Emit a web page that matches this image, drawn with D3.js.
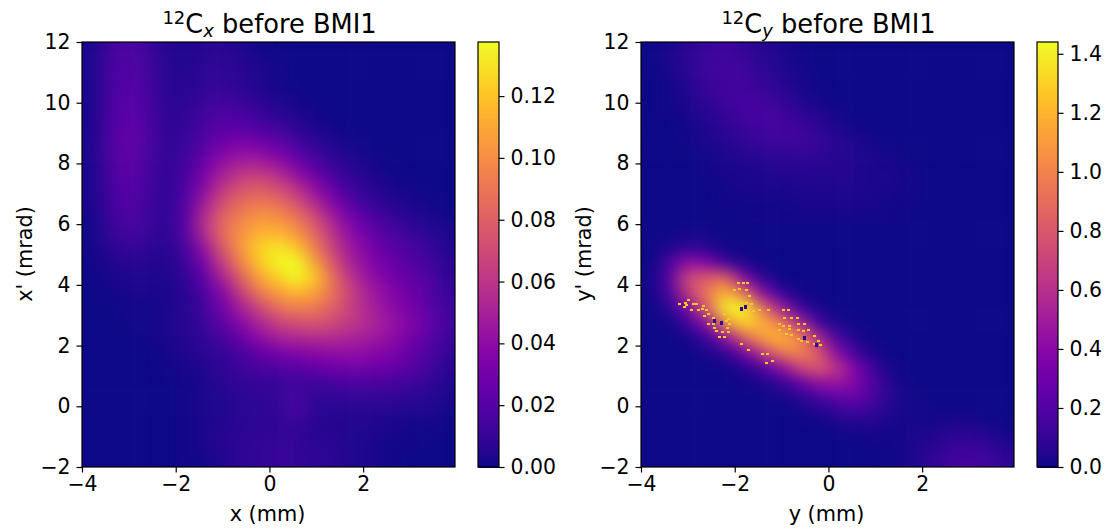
<!DOCTYPE html>
<html><head><meta charset="utf-8">
<script src="https://cdn.jsdelivr.net/npm/d3@7"></script>
<style>
html,body{margin:0;padding:0;background:#fff}
svg{display:block}
text{font-family:"DejaVu Sans",sans-serif;fill:#000}
</style></head><body>
<div id="chart"></div>
<script>
// cell edges: x from -4 in 0.4 steps, y from 12 downward in 0.5 steps; values in % of colour-bar max
const xEdges = d3.range(0, 21).map(i => -4 + i * 0.4);
const yEdges = d3.range(0, 29).map(i => 12 - i * 0.5);
const xTicks = [-4, -2, 0, 2];
const yTicks = [-2, 0, 2, 4, 6, 8, 10, 12];
const leftBarTicks = [0, 0.02, 0.04, 0.06, 0.08, 0.10, 0.12];
const rightBarTicks = [0, 0.2, 0.4, 0.6, 0.8, 1.0, 1.2, 1.4];
const leftMax = 0.1375;
const rightMax = 1.44;
const leftGrid = [
[2,10,13,9,4,3,4,5,3,1,0,0,0,0,0,0,0,0,0,0],
[2,11,14,10,4,3,5,6,4,2,1,0,0,0,0,0,0,0,0,0],
[2,12,15,11,5,4,6,7,5,3,1,0,0,0,0,0,0,0,0,0],
[2,12,16,12,5,5,7,9,7,4,2,1,0,0,0,0,0,0,0,0],
[2,12,17,12,6,6,10,12,11,8,4,2,1,0,0,0,0,0,0,0],
[2,13,18,13,6,7,12,15,15,12,9,5,2,1,0,0,0,0,0,0],
[2,13,18,13,6,8,14,20,23,21,16,10,5,2,1,0,0,0,0,0],
[2,13,18,12,6,9,18,27,32,31,25,17,10,5,2,1,0,0,0,0],
[2,12,17,12,6,11,23,35,43,43,38,28,17,10,5,2,1,0,0,0],
[2,11,16,11,6,13,28,43,53,56,50,40,28,16,8,4,2,1,0,0],
[2,10,15,10,6,14,34,52,62,66,62,52,38,24,13,7,4,2,1,0],
[1,9,13,9,6,16,40,60,69,75,73,64,50,33,20,13,8,4,2,1],
[1,7,11,8,5,15,40,62,74,82,82,74,58,40,26,18,12,8,4,2],
[1,5,8,6,4,12,32,57,76,91,95,86,66,46,31,23,16,12,8,3],
[1,3,5,4,3,9,24,48,70,89,100,100,76,52,35,26,20,15,10,5],
[0,2,3,3,3,6,17,37,59,80,91,100,86,60,41,30,23,18,13,6],
[0,1,2,2,2,5,13,28,48,67,78,84,78,62,46,34,27,21,15,8],
[0,0,1,1,2,4,10,22,36,51,63,69,66,57,46,36,29,23,16,9],
[0,0,1,1,2,4,8,17,28,39,48,53,54,50,44,38,32,26,18,10],
[0,0,0,1,2,4,7,11,20,29,36,39,41,40,37,34,29,23,16,9],
[0,0,0,0,1,3,5,7,12,18,23,26,28,30,30,28,25,19,13,7],
[0,0,0,0,1,2,3,6,9,12,14,16,18,21,22,21,19,16,10,5],
[0,0,0,0,0,1,2,5,7,7,8,10,9,11,12,12,11,9,7,3],
[0,0,0,0,0,1,2,3,5,6,7,11,6,6,6,7,6,5,4,2],
[0,0,0,0,0,1,2,3,5,5,7,11,5,4,4,4,3,3,2,1],
[0,0,0,0,0,1,2,4,5,6,6,7,4,4,3,3,2,1,1,0],
[0,0,0,0,0,1,2,4,6,7,8,7,5,5,3,2,1,1,0,0],
[0,0,0,0,0,1,1,3,6,7,8,7,6,5,3,2,1,0,0,0]
];
const rightGrid = [
[0,2,5,8,9,7,4,2,1,0,0,0,0,0,0,0,0,0,0,0],
[0,2,5,9,10,9,5,3,1,0,0,0,0,0,0,0,0,0,0,0],
[0,1,5,8,11,10,7,4,2,0,0,0,0,0,0,0,0,0,0,0],
[0,1,3,7,10,11,9,6,3,1,0,0,0,0,0,0,0,0,0,0],
[0,1,2,5,8,11,11,9,5,3,1,0,0,0,0,0,0,0,0,0],
[0,0,1,3,6,9,11,11,9,6,2,1,0,0,0,0,0,0,0,0],
[0,0,1,2,4,6,8,9,9,7,4,2,1,0,0,0,0,0,0,0],
[0,0,0,1,2,4,5,6,7,6,4,3,2,1,0,0,0,0,0,0],
[0,0,0,1,2,2,3,4,4,4,4,3,2,2,1,0,0,0,0,0],
[0,0,0,0,1,2,2,2,3,3,3,3,2,2,1,0,0,0,0,0],
[0,0,0,0,1,1,1,1,2,2,2,2,2,1,1,0,0,0,0,0],
[0,0,0,0,0,1,1,1,1,1,1,1,1,1,0,0,0,0,0,0],
[0,0,1,1,0,0,0,0,0,0,0,0,0,0,0,0,0,0,0,0],
[0,3,6,4,1,0,0,0,0,0,0,0,0,0,0,0,0,0,0,0],
[0,12,30,26,10,3,0,0,0,0,0,0,0,0,0,0,0,0,0,0],
[1,16,50,56,58,26,6,0,0,0,0,0,0,0,0,0,0,0,0,0],
[1,12,46,66,84,62,28,8,1,0,0,0,0,0,0,0,0,0,0,0],
[0,6,26,58,98,100,62,34,10,2,0,0,0,0,0,0,0,0,0,0],
[0,1,10,30,72,92,82,66,38,10,2,0,0,0,0,0,0,0,0,0],
[0,0,2,9,30,58,78,84,70,38,12,3,0,0,0,0,0,0,0,0],
[0,0,0,2,7,22,44,66,70,56,28,10,2,0,0,0,0,0,0,0],
[0,0,0,0,1,4,13,28,48,56,42,24,8,1,0,0,0,0,0,0],
[0,0,0,0,0,1,2,7,18,30,32,26,12,3,0,0,0,0,0,0],
[0,0,0,0,0,0,0,1,4,10,16,18,10,3,1,0,0,0,0,0],
[0,0,0,0,0,0,0,0,1,2,6,8,6,2,1,1,1,1,0,0],
[0,0,0,0,0,0,0,0,0,0,1,2,2,1,2,2,4,4,2,1],
[0,0,0,0,0,0,0,0,0,0,0,0,1,1,2,4,7,8,6,3],
[0,0,0,0,0,0,0,0,0,0,0,0,0,1,2,6,10,11,9,6]
];
// artefact pixels on the right panel, in data coordinates
const speckX = [-3.20,-3.08,-3.01,-3.06,-3.11,-2.96,-2.85,-2.92,-2.81,-2.71,-2.69,-2.64,-2.67,-2.60,-2.49,-2.46,-2.42,-2.29,-2.17,-2.35,-2.24,-2.60,-2.49,-2.24,-2.21,-2.17,-2.14,-2.19,-1.95,-1.85,-1.75,-2.03,-1.94,-1.77,-1.71,-1.89,-1.78,-1.68,-1.85,-1.73,-1.64,-1.50,-1.32,-1.00,-0.89,-1.89,-1.73,-1.44,-1.34,-1.35,-1.22,-0.98,-0.81,-0.70,-1.07,-1.00,-0.86,-0.67,-0.54,-1.07,-0.93,-0.82,-0.68,-0.57,-0.45,-0.86,-0.68,-0.61,-0.47,-0.54,-0.34,-0.25,-0.20,-0.34];
const speckY = [3.41,3.45,3.52,3.37,3.32,3.20,3.41,3.39,3.20,3.23,3.34,3.20,3.01,3.06,2.95,2.62,2.51,2.49,2.49,2.30,2.30,2.76,2.76,3.06,2.84,2.90,2.73,2.62,4.11,4.11,4.11,3.85,3.91,3.85,3.67,3.45,3.45,3.39,3.28,3.17,3.17,3.20,3.20,3.20,3.20,2.08,1.90,1.77,1.77,1.47,1.53,2.93,2.95,2.93,2.73,2.68,2.68,2.76,2.76,2.55,2.43,2.38,2.54,2.51,2.55,2.57,2.24,2.19,2.16,2.32,2.35,2.19,2.04,2.08];
const holeX = [-2.46,-2.32,-1.89,-1.80,-0.54,-0.29];
const holeY = [2.87,2.82,3.26,3.34,2.32,2.08];

const W = 1114, H = 529;
const svg = d3.select("#chart").append("svg").attr("width", W).attr("height", H);
const defs = svg.append("defs");
defs.append("filter").attr("id", "smooth").attr("filterUnits", "userSpaceOnUse")
  .attr("x", 0).attr("y", 0).attr("width", W).attr("height", H)
  .attr("color-interpolation-filters", "sRGB")
  .append("feGaussianBlur").attr("stdDeviation", "8.5 7");

function panel(cfg) {
  const {left, grid, max, barTicks, barFmt, xLab, yLab, sub, id, barLeft} = cfg;
  const top = 42, bottom = 467, right = left + 373;
  const x = d3.scaleLinear().domain([-4, 3.96]).range([left, right]);
  const y = d3.scaleLinear().domain([-2, 12]).range([bottom, top]);
  const color = d3.scaleSequential(d3.interpolatePlasma).domain([0, 100]);

  defs.append("clipPath").attr("id", id).append("rect")
    .attr("x", left).attr("y", top).attr("width", right - left).attr("height", bottom - top);

  const cells = [];
  grid.forEach((row, j) => row.forEach((v, i) => cells.push({i, j, v})));
  const pad = 40;
  svg.append("g").attr("clip-path", `url(#${id})`)
    .append("g").attr("filter", "url(#smooth)")
    .selectAll("rect").data(cells).join("rect")
    .attr("x", d => x(xEdges[d.i]) - (d.i === 0 ? pad : 0))
    .attr("y", d => y(yEdges[d.j]) - (d.j === 0 ? pad : 0))
    .attr("width", d => x(xEdges[d.i + 1]) - x(xEdges[d.i]) + 0.5 + ((d.i === 0 || d.i === 19) ? pad : 0))
    .attr("height", d => y(yEdges[d.j + 1]) - y(yEdges[d.j]) + 0.5 + ((d.j === 0 || d.j === 27) ? pad : 0))
    .attr("fill", d => color(d.v));

  if (cfg.specks) {
    const sg = svg.append("g").attr("clip-path", `url(#${id})`);
    sg.selectAll("rect.s").data(speckX).join("rect").attr("class", "s")
      .attr("x", (d) => Math.round(x(d))).attr("y", (d, i) => Math.round(y(speckY[i])))
      .attr("width", 3).attr("height", 2).attr("fill", "#fbc826");
    sg.selectAll("rect.h").data(holeX).join("rect").attr("class", "h")
      .attr("x", d => Math.round(x(d))).attr("y", (d, i) => Math.round(y(holeY[i])))
      .attr("width", 3).attr("height", 4).attr("fill", "#2a0a90");
  }

  // axes
  const style = g => {
    g.selectAll("text").style("font-size", "20.4px").style("font-family", '"DejaVu Sans"');
    g.selectAll("line,path").attr("stroke", "#000").attr("stroke-width", 1.2);
  };
  const ax = svg.append("g").attr("transform", `translate(0,${bottom})`)
    .call(d3.axisBottom(x).tickValues(xTicks).tickSize(5.5).tickPadding(4).tickFormat(d3.format("d")));
  ax.select(".domain").remove(); style(ax);
  const ay = svg.append("g").attr("transform", `translate(${left},0)`)
    .call(d3.axisLeft(y).tickValues(yTicks).tickSize(5.5).tickPadding(6).tickFormat(d3.format("d")));
  ay.select(".domain").remove(); style(ay);
  svg.append("rect").attr("x", left).attr("y", top).attr("width", right - left).attr("height", bottom - top)
    .attr("fill", "none").attr("stroke", "#000").attr("stroke-width", 1.2);

  // labels
  svg.append("text").attr("x", (left + right) / 2 - 1).attr("y", 521)
    .attr("text-anchor", "middle").style("font-size", "20.8px").text(xLab);
  svg.append("text").attr("transform", `translate(${left - 50},254) rotate(-90)`)
    .attr("text-anchor", "middle").style("font-size", "20.8px").text(yLab);

  const t = svg.append("text").attr("x", (left + right) / 2 + 1).attr("y", 33)
    .attr("text-anchor", "middle").style("font-size", "25.7px");
  t.append("tspan").attr("dy", -9).style("font-size", "18px").text("12");
  t.append("tspan").attr("dy", 9).text("C");
  t.append("tspan").attr("dy", 4).style("font-size", "18px").style("font-style", "italic").text(sub);
  t.append("tspan").attr("dy", -4).text(" before BMI1");

  // colour bar
  const bx = barLeft, bw = 21;
  const by = d3.scaleLinear().domain([0, max]).range([bottom, top]);
  const steps = d3.range(0, 256);
  svg.append("g").attr("shape-rendering", "crispEdges").selectAll("rect").data(steps).join("rect")
    .attr("x", bx).attr("width", bw)
    .attr("y", d => by((d + 1) / 256 * max))
    .attr("height", d => by(d / 256 * max) - by((d + 1) / 256 * max) + 1)
    .attr("fill", d => d3.interpolatePlasma((d + 0.5) / 256));
  const ab = svg.append("g").attr("transform", `translate(${bx + bw},0)`)
    .call(d3.axisRight(by).tickValues(barTicks).tickSize(5.5).tickPadding(6).tickFormat(d3.format(barFmt)));
  ab.select(".domain").remove(); style(ab);
  svg.append("rect").attr("x", bx).attr("y", top).attr("width", bw).attr("height", bottom - top)
    .attr("fill", "none").attr("stroke", "#000").attr("stroke-width", 1.2);
}

panel({id: "cl", left: 82, grid: leftGrid, max: leftMax, barTicks: leftBarTicks, barFmt: ".2f",
  xLab: "x (mm)", yLab: "x' (mrad)", sub: "x", barLeft: 478});
panel({id: "cr", left: 641, grid: rightGrid, max: rightMax, barTicks: rightBarTicks, barFmt: ".1f",
  xLab: "y (mm)", yLab: "y' (mrad)", sub: "y", barLeft: 1037, specks: true});
</script>
</body></html>
